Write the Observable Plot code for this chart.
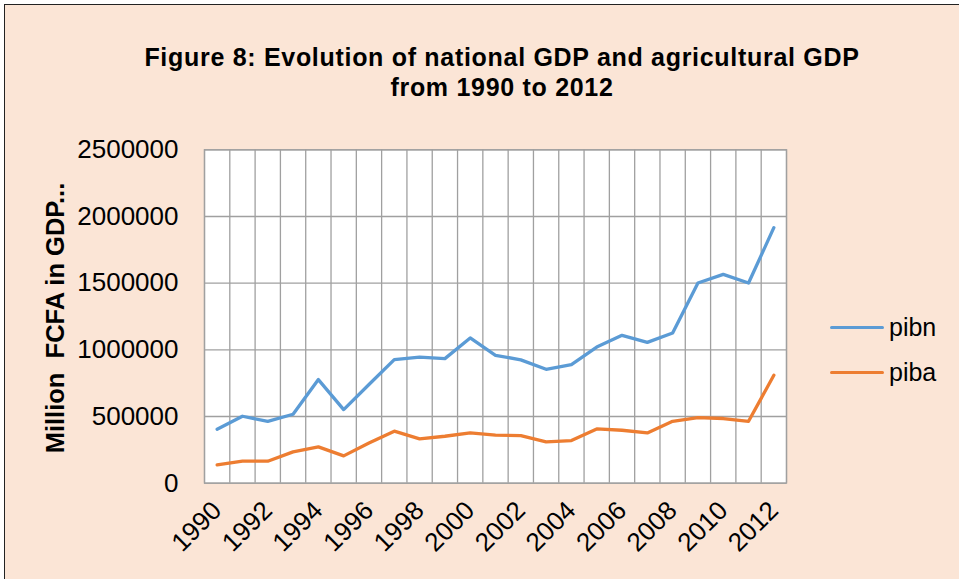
<!DOCTYPE html>
<html>
<head>
<meta charset="utf-8">
<script src="https://cdn.jsdelivr.net/npm/d3@7"></script>
<script src="https://cdn.jsdelivr.net/npm/@observablehq/plot@0.6"></script>
<style>
  html, body { margin: 0; padding: 0; background: #fff; }
  #wrap { position: relative; width: 959px; height: 579px; overflow: hidden; background: #fff;
          font-family: "Liberation Sans", Arial, sans-serif; color: #000; }
  #panel { position: absolute; left: 4px; top: 4px; width: 1000px; height: 620px;
           background: #FBE5D6; border-left: 1.5px solid #222; border-top: 1.5px solid #222; }
  #title { position: absolute; left: 45px; width: 914px; top: 42px; text-align: center;
           font-weight: bold; font-size: 25px; line-height: 30px; letter-spacing: 0.7px; }
  #ytitle { position: absolute; left: 55px; top: 318px; transform: translate(-50%, -50%) rotate(-90deg);
            font-weight: bold; font-size: 25.5px; white-space: pre; }
  #chart { position: absolute; left: 0; top: 110px; }
  .leg { position: absolute; left: 830px; display: flex; align-items: center; font-size: 25px; height: 30px; }
  .leg .sw { width: 54px; height: 0; border-top: 3.3px solid; margin-right: 5px; border-radius: 2px; }
</style>
</head>
<body>
<div id="wrap">
  <div id="panel"></div>
  <div id="title"></div>
  <div id="ytitle"></div>
  <div id="chart"></div>
  <div id="legend"></div>
</div>
<script>
const titleLines = ["Figure 8: Evolution of national GDP and agricultural GDP", "from 1990 to 2012"];
const yAxisTitle = "Million  FCFA in GDP...";
const years = [1990, 1991, 1992, 1993, 1994, 1995, 1996, 1997, 1998, 1999, 2000, 2001,
               2002, 2003, 2004, 2005, 2006, 2007, 2008, 2009, 2010, 2011, 2012];
const pibn = [404000, 502000, 464000, 517000, 777000, 552000, 740000, 927000, 946000, 934000, 1089000, 959000,
              925000, 854000, 889000, 1021000, 1109000, 1056000, 1126000, 1501000, 1566000, 1501000, 1916000];
const piba = [137000, 165000, 165000, 235000, 272000, 205000, 302000, 390000, 332000, 352000, 377000, 360000,
              357000, 310000, 320000, 407000, 397000, 377000, 464000, 492000, 485000, 464000, 809000];
const yTicks = [0, 500000, 1000000, 1500000, 2000000, 2500000];
const xTickLabels = [1990, 1992, 1994, 1996, 1998, 2000, 2002, 2004, 2006, 2008, 2010, 2012];
const seriesNames = ["pibn", "piba"];
const seriesColors = ["#5B9BD5", "#ED7D31"];

document.getElementById("title").innerHTML = titleLines.join("<br>");
document.getElementById("ytitle").textContent = yAxisTitle;

const rows = [];
years.forEach((yr, i) => {
  rows.push({year: yr, value: pibn[i], series: "pibn"});
  rows.push({year: yr, value: piba[i], series: "piba"});
});
const gridX = years.map(y => y - 0.5).concat([years[years.length - 1] + 0.5]);
const grid = "#A0A0A0";

const chart = Plot.plot({
  width: 959,
  height: 469,
  marginTop: 39.3,
  marginBottom: 96.3,
  marginLeft: 204,
  marginRight: 173,
  style: {background: "transparent", fontFamily: "'Liberation Sans', Arial, sans-serif", color: "#000", overflow: "visible"},
  x: {domain: [years[0] - 0.5, years[years.length - 1] + 0.5]},
  y: {domain: [yTicks[0], yTicks[yTicks.length - 1]]},
  color: {domain: seriesNames, range: seriesColors},
  marks: [
    Plot.frame({fill: "white", stroke: null}),
    Plot.ruleX(gridX, {stroke: grid, strokeWidth: 1.3}),
    Plot.ruleY(yTicks, {stroke: grid, strokeWidth: 1.3}),
    Plot.frame({stroke: grid, strokeWidth: 1.3}),
    Plot.line(rows, {x: "year", y: "value", z: "series", stroke: "series", strokeWidth: 3.3,
                     strokeLinejoin: "round", strokeLinecap: "round"}),
    Plot.axisY({ticks: yTicks, tickFormat: d3.format("d"), tickSize: 0, tickPadding: 26, fontSize: 26, label: null}),
    Plot.axisX({ticks: xTickLabels, tickFormat: d => String(d), tickSize: 0, tickPadding: 23, tickRotate: -45,
                fontSize: 26, label: null})
  ]
});
document.getElementById("chart").appendChild(chart);

const legend = document.getElementById("legend");
const legendTops = [312, 357];
seriesNames.forEach((name, i) => {
  const d = document.createElement("div");
  d.className = "leg";
  d.style.top = legendTops[i] + "px";
  d.innerHTML = `<span class="sw" style="border-color:${seriesColors[i]}"></span><span>${name}</span>`;
  legend.appendChild(d);
});
</script>
</body>
</html>
